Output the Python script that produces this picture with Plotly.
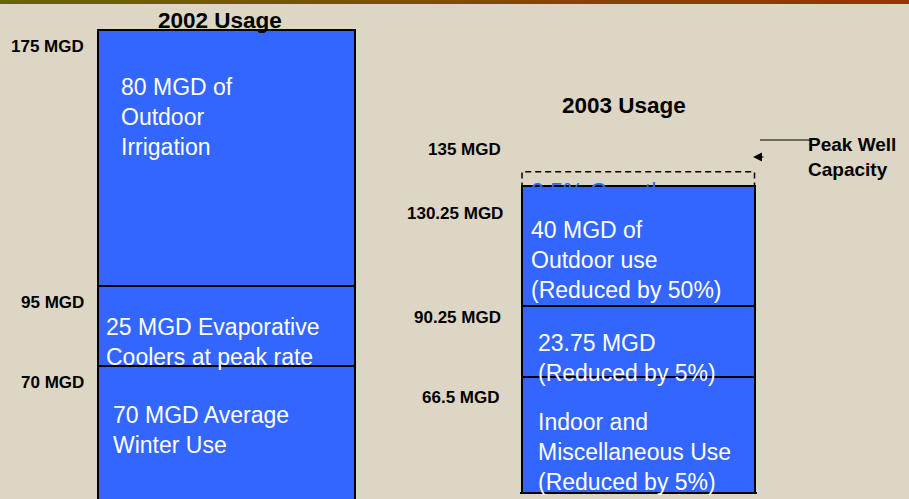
import plotly.graph_objects as go
import numpy as np

# ---------------- data ----------------
years = ["2002 Usage", "2003 Usage"]
segment_names = ["Indoor / winter use", "Evaporative coolers", "Outdoor use"]
usage_2002 = [70, 25, 80]          # MGD, bottom -> top
usage_2003 = [66.5, 23.75, 40]     # MGD, bottom -> top
peak_well_capacity = 135           # MGD
growth_note = "2.5% Growth"
text_2002 = ["70 MGD Average<br>Winter Use",
             "25 MGD Evaporative<br>Coolers at peak rate",
             "80 MGD of<br>Outdoor<br>Irrigation"]
text_2003 = ["Indoor and<br>Miscellaneous Use<br>(Reduced by 5%)",
             "23.75 MGD<br>(Reduced by 5%)",
             "40 MGD of<br>Outdoor use<br>(Reduced by 50%)"]
capacity_label = "Peak Well<br>Capacity"

levels_2002 = list(np.cumsum(usage_2002))
levels_2003 = list(np.cumsum(usage_2003))

def mgd(v):
    return f"{v:g} MGD"

# ---------------- layout constants ----------------
W, H = 909, 499
BG = "#DDD6C4"
BLUE = "#3366FF"
FONT = "Liberation Sans, Arial, sans-serif"

def px_x(p):
    return p / W

def px_y(p):
    return 1 - p / H

# left bar: 3.2 px per MGD, 0 MGD at px 590
L_BAR = (98, 355)
y1_range = [(590 - H) / 3.2, 590 / 3.2]
# right bar: fitted scale
R_BAR = (522, 754.5)
R_BOTTOM = 492
def r_val(p):
    return 95.667 - (p - 289.33) / 2.9897
y2_range = [r_val(R_BOTTOM), r_val(0)]

def xdom(bar, pad=2):
    return [px_x(bar[0] - pad), px_x(bar[1] + pad)]

def xrange_(bar, pad=2):
    w = bar[1] - bar[0]
    return [-0.5 - pad / w, 0.5 + pad / w]

fig = go.Figure()
for i, name in enumerate(segment_names):
    fig.add_trace(go.Bar(x=[0], y=[usage_2002[i]], name=name, width=1,
                         marker=dict(color=BLUE, line=dict(color="black", width=2)),
                         xaxis="x", yaxis="y", hoverinfo="skip", showlegend=False))
    fig.add_trace(go.Bar(x=[0], y=[usage_2003[i]], name=name, width=1,
                         marker=dict(color=BLUE, line=dict(color="black", width=2)),
                         xaxis="x2", yaxis="y2", hoverinfo="skip", showlegend=False))

ax_common = dict(showgrid=False, zeroline=False, showticklabels=False, ticks="", fixedrange=True)

annotations = []

# titles
annotations.append(dict(text=f"<b>{years[0]}</b>", x=px_x(220), y=px_y(20), xref="paper", yref="paper",
                        xanchor="center", yanchor="middle",
                        showarrow=False, font=dict(family=FONT, size=22.5, color="black")))
annotations.append(dict(text=f"<b>{years[1]}</b>", x=px_x(624), y=px_y(105), xref="paper", yref="paper",
                        xanchor="center", yanchor="middle",
                        showarrow=False, font=dict(family=FONT, size=22.5, color="black")))

# level labels (left)
for v in levels_2002:
    annotations.append(dict(text=f"<b>{mgd(v)}</b>", x=px_x(86), xref="paper", xanchor="right",
                            y=v, yref="y", yshift=-16, yanchor="middle", showarrow=False,
                            font=dict(family=FONT, size=17, color="black")))
# level labels (right)
right_levels = [peak_well_capacity] + levels_2003[::-1]
right_shift = [22, -27.5, -12, -21]
right_edge = [503, 505, 503.5, 501]
for v, s, e in zip(right_levels, right_shift, right_edge):
    annotations.append(dict(text=f"<b>{mgd(v)}</b>", x=px_x(e), xref="paper", xanchor="right",
                            y=v, yref="y2", yshift=s, yanchor="middle", showarrow=False,
                            font=dict(family=FONT, size=17, color="black")))

# segment texts
left_pos = [(111, 430), (104, 342), (119, 117.5)]
right_pos = [(536, 451.5), (536, 358), (529, 260)]
for t, (xl, yc) in zip(text_2002, left_pos):
    annotations.append(dict(text=t, x=px_x(xl), y=px_y(yc), xref="paper", yref="paper",
                            xanchor="left", yanchor="middle", align="left", showarrow=False,
                            font=dict(family=FONT, size=23, color="white")))
for t, (xl, yc) in zip(text_2003, right_pos):
    annotations.append(dict(text=t, x=px_x(xl), y=px_y(yc), xref="paper", yref="paper",
                            xanchor="left", yanchor="middle", align="left", showarrow=False,
                            font=dict(family=FONT, size=23, color="white")))

# hidden growth note (same blue as bar, peeks above top edge)
annotations.append(dict(text=growth_note, x=px_x(529), xref="paper", xanchor="left",
                        y=levels_2003[-1], yref="y2", yshift=-6, yanchor="middle",
                        showarrow=False, font=dict(family=FONT, size=23, color=BLUE)))

# peak well capacity label + arrow head
annotations.append(dict(text=f"<b>{capacity_label}</b>", x=px_x(806), y=px_y(157),
                        xref="paper", yref="paper", xanchor="left", yanchor="middle", align="left",
                        showarrow=False, font=dict(family=FONT, size=19, color="black")))
annotations.append(dict(text="", x=px_x(753), y=px_y(157), xref="paper", yref="paper",
                        showarrow=True, ax=12, ay=0, arrowhead=2, arrowsize=1.8, arrowwidth=1,
                        arrowcolor="black"))

shapes = []
# top gradient strip
N = 90
c0 = np.array([102, 102, 0])
c1 = np.array([153, 51, 0])
for i in range(N):
    c = (c0 + (c1 - c0) * i / (N - 1)).astype(int)
    shapes.append(dict(type="rect", xref="paper", yref="paper",
                       x0=i / N, x1=(i + 1) / N + 0.002, y0=px_y(4), y1=1,
                       line=dict(width=0), fillcolor=f"rgb({c[0]},{c[1]},{c[2]})", layer="above"))
# dashed peak-capacity box
shapes.append(dict(type="rect", xref="x2", yref="y2", x0=-0.5, x1=0.5,
                   y0=levels_2003[-1], y1=peak_well_capacity,
                   line=dict(color="black", width=1.5, dash="6px,4px"), layer="above"))
# leader line to label
shapes.append(dict(type="line", xref="paper", yref="paper", x0=px_x(760), x1=px_x(812),
                   y0=px_y(140), y1=px_y(140), line=dict(color="black", width=1.2)))

fig.update_layout(
    width=W, height=H,
    margin=dict(l=0, r=0, t=0, b=0),
    paper_bgcolor=BG, plot_bgcolor=BG,
    barmode="stack", bargap=0, showlegend=False,
    xaxis=dict(domain=xdom(L_BAR), range=xrange_(L_BAR), anchor="y", **ax_common),
    yaxis=dict(domain=[0, 1], range=y1_range, anchor="x", **ax_common),
    xaxis2=dict(domain=xdom(R_BAR), range=xrange_(R_BAR), anchor="y2",
                showline=True, linecolor="black", linewidth=1.5, **ax_common),
    yaxis2=dict(domain=[(H - R_BOTTOM) / H, 1], range=y2_range, anchor="x2", **ax_common),
    annotations=annotations,
    shapes=shapes,
)

fig.write_html("out.html", config={"displayModeBar": False},
               post_script="document.body.style.margin='0';document.body.style.padding='0';"
                           "document.body.style.overflow='hidden';"
                           "document.body.style.background='" + BG + "';")
